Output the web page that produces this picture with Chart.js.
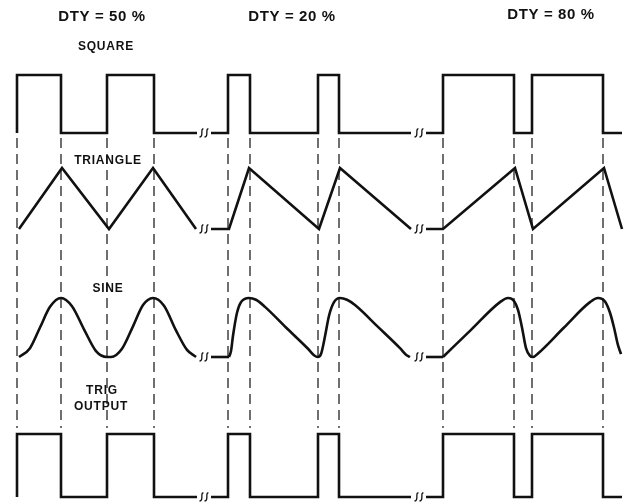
<!DOCTYPE html>
<html>
<head>
<meta charset="utf-8">
<script src="https://cdn.jsdelivr.net/npm/chart.js@4/dist/chart.umd.min.js"></script>
<style>
html,body{margin:0;padding:0;background:#fff;}
#c{display:block;}
</style>
</head>
<body>
<canvas id="c" width="625" height="502"></canvas>
<script>
// ---- DATA: [time, normalized level 0..1] ----
const dutyLabels = ["DTY = 50 %", "DTY = 20 %", "DTY = 80 %"];
const waveNames = ["SQUARE", "TRIANGLE", "SINE", "TRIG", "OUTPUT"];

const square50 = [[17,0],[17,1],[61,1],[61,0],[107,0],[107,1],[154,1],[154,0],[197,0]];
const square20 = [[211,0],[228,0],[228,1],[250,1],[250,0],[318,0],[318,1],[339,1],[339,0],[411,0]];
const square80 = [[426,0],[443,0],[443,1],[514,1],[514,0],[532,0],[532,1],[603,1],[603,0],[622,0]];

const triangle50 = [[19,0],[62,1],[109,0],[153,1],[196,0]];
const triangle20 = [[211,0],[229,0],[249,1],[319,0],[340,1],[411,0]];
const triangle80 = [[426,0],[443,0],[515,1],[533,0],[604,1],[622,0]];

const sine50 = [[19,0],[30,0.15],[40,0.5],[50,0.85],[61,1],[72,0.86],[84,0.47],[96,0.1],[107,0],[111,0],[122,0.14],[133,0.52],[143,0.88],[153,1],[164,0.87],[176,0.45],[187,0.12],[196,0]];
const sine20 = [[211,0],[229,0],[231,0.1],[233,0.36],[237,0.75],[241,0.93],[249,1],[256,0.97],[265,0.85],[286,0.5],[308,0.14],[314,0.03],[318,0],[321,0.05],[325,0.35],[329,0.7],[334,0.93],[340,1],[347,0.97],[355,0.88],[378,0.51],[400,0.15],[406,0.04],[410,0]];
const sine80 = [[426,0],[443,0],[471,0.46],[500,0.93],[508,1],[514,0.95],[518,0.8],[522,0.5],[526,0.15],[530,0.02],[533,0],[538,0.06],[564,0.5],[590,0.93],[598,1],[605,0.94],[610,0.75],[614,0.5],[618,0.2],[621,0.05]];

const trig50 = square50;
const trig20 = square20;
const trig80 = square80;

// transition instants marked by dashed guides
const guideTimes = [17,61,107,154, 228,250,318,339, 443,514,532,603];
// break (time-axis discontinuity) instants
const breakTimes = [204, 419];

// ---- LAYOUT (kept out of the data) ----
const lanes = {
  square:   {top:75,  bottom:133},
  triangle: {top:168, bottom:229},
  sine:     {top:298, bottom:357},
  trig:     {top:434, bottom:497}
};
const guideSpan = {from:138, to:428};

function place(arr, lane){
  return arr.map(p => ({x:p[0], y: lane.bottom - p[1]*(lane.bottom-lane.top)}));
}
const INK = '#111';
function line(arr, lane, smooth){
  return {
    data: place(arr, lane), borderColor: INK, borderWidth: 2.6, pointRadius: 0,
    showLine: true, fill: false, tension: smooth ? 0.4 : 0,
    cubicInterpolationMode: smooth ? 'monotone' : 'default',
    borderJoinStyle: 'miter', borderCapStyle: 'butt'
  };
}
function wave(arr, lane, smooth, out){
  if (smooth && arr[0][1] === 0 && arr[1][1] === 0) {
    out.push(line(arr.slice(0,2), lane, false));
    out.push(line(arr.slice(1), lane, true));
  } else out.push(line(arr, lane, smooth));
}
const datasets = [];
guideTimes.forEach(t => datasets.push({
  data:[{x:t,y:guideSpan.from},{x:t,y:guideSpan.to}], borderColor:INK, borderWidth:1.2,
  borderDash:[10,6], pointRadius:0, showLine:true, fill:false
}));
[square50,square20,square80].forEach(a => wave(a, lanes.square, false, datasets));
[triangle50,triangle20,triangle80].forEach(a => wave(a, lanes.triangle, false, datasets));
[sine50,sine20,sine80].forEach(a => wave(a, lanes.sine, true, datasets));
[trig50,trig20,trig80].forEach(a => wave(a, lanes.trig, false, datasets));

const labelPlugin = {
  id:'labels',
  afterDatasetsDraw(chart){
    const ctx = chart.ctx, xs = chart.scales.x, ys = chart.scales.y;
    ctx.save();
    ctx.fillStyle = INK; ctx.textAlign='center'; ctx.textBaseline='middle';
    ctx.font = 'bold 15px "Liberation Sans", Arial, sans-serif';
    ctx.letterSpacing = '0.6px';
    const dutyPos = [[102,17],[292,17],[551,15]];
    dutyLabels.forEach((s,i)=>ctx.fillText(s, xs.getPixelForValue(dutyPos[i][0]), ys.getPixelForValue(dutyPos[i][1])));
    ctx.font = 'bold 12px "Liberation Sans", Arial, sans-serif';
    ctx.letterSpacing = '0.8px';
    const namePos = [[106,47],[108,161],[108,289],[102,391],[101,407]];
    waveNames.forEach((s,i)=>ctx.fillText(s, xs.getPixelForValue(namePos[i][0]), ys.getPixelForValue(namePos[i][1])));
    ctx.letterSpacing = '0px';
    // break symbols
    ctx.strokeStyle = INK; ctx.lineWidth = 1.3;
    Object.values(lanes).forEach(l => {
      breakTimes.forEach(t => {
        const cx = xs.getPixelForValue(t), cy = ys.getPixelForValue(l.bottom);
        for (let i=0;i<2;i++){
          const x0 = cx - 3 + i*5;
          ctx.beginPath();
          ctx.moveTo(x0+2.5, cy-4);
          ctx.bezierCurveTo(x0-1, cy-5, x0+3, cy+4, x0-1.5, cy+4);
          ctx.stroke();
        }
      });
    });
    ctx.restore();
  }
};

new Chart(document.getElementById('c'), {
  type:'scatter',
  data:{datasets},
  options:{
    responsive:false, devicePixelRatio:1, animation:false,
    layout:{padding:0},
    plugins:{legend:{display:false}, tooltip:{enabled:false}},
    scales:{
      x:{type:'linear', display:false, min:0, max:625},
      y:{type:'linear', display:false, min:0, max:502, reverse:true}
    }
  },
  plugins:[labelPlugin]
});
</script>
</body>
</html>
